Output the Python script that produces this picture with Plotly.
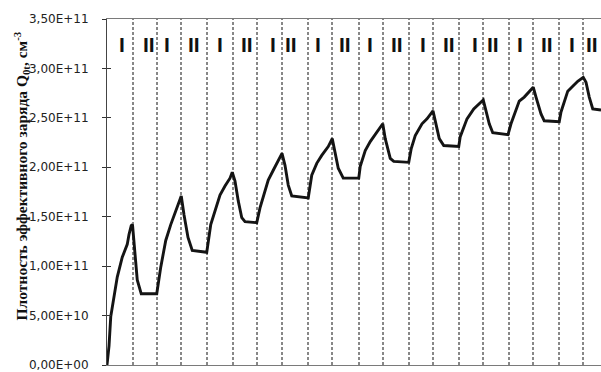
import plotly.graph_objects as go

# time axis (arbitrary units, one unit ~ one phase length)
t_vals = [0.00, 0.08, 0.15, 0.28, 0.41, 0.61, 0.81, 0.88, 0.97, 1.02,
          1.08, 1.15, 1.21, 1.37, 1.99, 2.15, 2.35, 2.55, 2.75, 2.97,
          3.08, 3.24, 3.41, 3.99, 4.15, 4.32, 4.52, 4.72, 4.92, 5.01,
          5.12, 5.25, 5.39, 5.52, 5.99, 6.12, 6.25, 6.45, 6.65, 6.85, 7.00,
          7.12, 7.25, 7.39, 8.05, 8.19, 8.39, 8.59, 8.85, 9.01,
          9.12, 9.25, 9.45, 10.07, 10.13, 10.33, 10.53, 10.80, 11.03,
          11.13, 11.33, 11.47, 12.07, 12.17, 12.33, 12.60, 12.80, 13.04,
          13.13, 13.29, 13.47, 14.07, 14.13, 14.40, 14.67, 15.05,
          15.16, 15.29, 15.43, 16.04, 16.16, 16.29, 16.49, 16.69, 17.05,
          17.16, 17.36, 17.49, 18.09, 18.16, 18.29, 18.43, 18.63, 18.83, 19.05,
          19.16, 19.29, 19.43, 19.76]
# effective charge density, units of 1E+11 cm^-3
q_e11 = [0.00, 0.19, 0.49, 0.69, 0.89, 1.09, 1.22, 1.32, 1.41, 1.42,
         1.26, 1.02, 0.86, 0.72, 0.72, 0.99, 1.26, 1.42, 1.56, 1.71,
         1.52, 1.29, 1.16, 1.14, 1.42, 1.56, 1.72, 1.81, 1.89, 1.95,
         1.86, 1.66, 1.49, 1.45, 1.44, 1.59, 1.71, 1.87, 1.97, 2.06, 2.14,
         2.02, 1.82, 1.71, 1.69, 1.92, 2.04, 2.12, 2.21, 2.29,
         2.16, 1.99, 1.89, 1.89, 2.01, 2.17, 2.26, 2.36, 2.44,
         2.29, 2.09, 2.06, 2.05, 2.19, 2.32, 2.44, 2.49, 2.57,
         2.47, 2.29, 2.22, 2.21, 2.31, 2.49, 2.59, 2.68,
         2.57, 2.44, 2.35, 2.33, 2.44, 2.54, 2.67, 2.71, 2.81,
         2.71, 2.54, 2.47, 2.46, 2.56, 2.67, 2.77, 2.82, 2.87, 2.91,
         2.86, 2.71, 2.59, 2.58]

# phase boundaries (dashed lines)
boundaries = [1.04, 2.00, 2.96, 4.00, 5.04, 6.00, 7.00, 8.04, 9.00, 10.08,
              11.04, 12.08, 13.04, 14.08, 15.04, 16.08, 17.04, 18.08, 19.04]

# phase labels
phase_text = ["I", "II"] * 10
phase_pos = [0.59, 1.68, 2.40, 3.48, 4.52, 5.59, 6.62, 7.35, 8.44, 9.50,
             10.52, 11.60, 12.62, 13.68, 14.72, 15.42, 16.52, 17.59, 18.59, 19.40]
phase_y = 3.245e11

y_ticks = [0, 5e10, 1e11, 1.5e11, 2e11, 2.5e11, 3e11, 3.5e11]
y_tick_text = ["0,00E+00", "5,00E+10", "1,00E+11", "1,50E+11",
               "2,00E+11", "2,50E+11", "3,00E+11", "3,50E+11"]

y_top = 3.5e11
x_max = 19.76

fig = go.Figure()

# dashed boundary lines
bx, by = [], []
for b in boundaries:
    bx += [b, b, None]
    by += [0, y_top, None]
fig.add_trace(go.Scatter(x=bx, y=by, mode="lines", yaxis="y2",
                         line=dict(color="#111111", width=1, dash="3px,2px"),
                         hoverinfo="skip", showlegend=False))

fig.add_trace(go.Scatter(x=t_vals, y=[v * 1e11 for v in q_e11], mode="lines",
                         line=dict(color="#141414", width=2.9),
                         showlegend=False))

for txt, xp in zip(phase_text, phase_pos):
    fig.add_annotation(x=xp, y=phase_y, xref="x", yref="y", text="<b>%s</b>" % txt,
                       showarrow=False,
                       font=dict(family="Liberation Sans", size=21, color="#111111"))

fig.add_annotation(xref="paper", yref="paper", x=-0.172, y=0.545,
                   xanchor="center", yanchor="middle", textangle=-90,
                   showarrow=False,
                   text="<b>Плотность эффективного заряда Q<sub>0t</sub>, см<sup>-3</sup></b>",
                   font=dict(family="Liberation Serif", size=15.5, color="#111111"))

fig.update_layout(
    width=601, height=372,
    margin=dict(l=107, r=0, t=19, b=3),
    paper_bgcolor="white", plot_bgcolor="white",
    xaxis=dict(range=[0, x_max], showgrid=False, zeroline=False,
               showticklabels=False, ticks="", showline=True,
               linecolor="#7a7a7a", linewidth=1, mirror=True),
    yaxis=dict(range=[0, y_top], showgrid=False, zeroline=False,
               tickvals=y_ticks, ticktext=y_tick_text,
               ticks="outside", ticklen=4, tickcolor="#333333",
               showline=True, linecolor="#444444", linewidth=1,
               ticklabelstandoff=11, ticklabeloverflow="allow",
               tickfont=dict(family="DejaVu Sans", size=12, color="#222222")),
    yaxis2=dict(range=[0, y_top], overlaying="y", side="left",
                showgrid=False, zeroline=False, showticklabels=False,
                tickvals=y_ticks, ticks="inside", ticklen=4,
                tickcolor="#333333", showline=False),
)

fig.write_html("out.html", config={"displayModeBar": False},
               post_script="document.body.style.margin='0';"
                           "document.body.style.overflow='hidden';")
